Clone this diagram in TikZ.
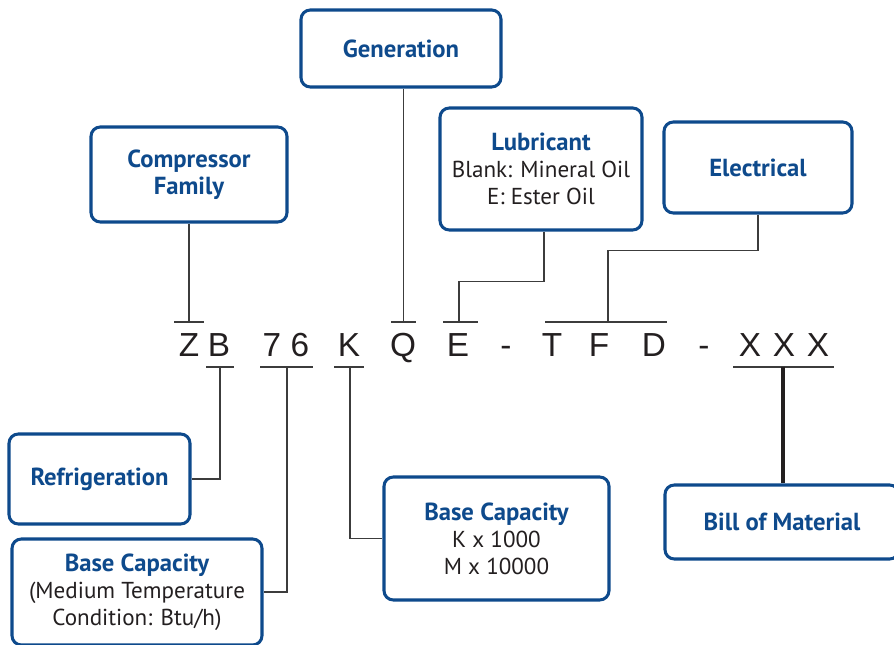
\documentclass[tikz,border=0pt]{standalone}
\usepackage{fontspec}
\setmainfont{PT Sans}
\newfontfamily\codefont{Liberation Sans}
\definecolor{eblue}{RGB}{14,74,140}
\definecolor{ltext}{RGB}{35,31,32}
\definecolor{lline}{RGB}{60,60,60}
\newcommand\boxtitle[1]{{\fontsize{18.5}{20}\selectfont\bfseries\color{eblue}#1}}
\begin{document}
\begin{tikzpicture}[x=0.75pt,y=-0.75pt,
  box/.style={draw=eblue, line width=2.3pt, rounded corners=7pt, fill=white,
    align=center, inner sep=0pt, text=ltext, font=\fontsize{17.3}{20.25}\selectfont},
  conn/.style={draw=lline, line width=1.1pt},
  bold conn/.style={draw=ltext, line width=2.3pt},
  code/.style={font=\codefont\fontsize{25}{25}\selectfont, text=ltext, inner sep=0pt, anchor=base}]
\useasboundingbox (0,0) rectangle (894,645);

% boxes
\node[box, minimum width=200*0.75pt, minimum height=77*0.75pt] (gen) at (401,48.5) {\boxtitle{Generation}};
\node[box, minimum width=196*0.75pt, minimum height=95*0.75pt] (cf) at (189,174.5) {\boxtitle{Compressor}\\\boxtitle{Family}};
\node[box, minimum width=202*0.75pt, minimum height=122*0.75pt] (lub) at (541,169) {\boxtitle{Lubricant}\\Blank: Mineral Oil\\E: Ester Oil};
\node[box, minimum width=188*0.75pt, minimum height=91*0.75pt] (elec) at (758,167.5) {\boxtitle{Electrical}};
\node[box, minimum width=181*0.75pt, minimum height=90*0.75pt] (ref) at (99.5,479) {\boxtitle{Refrigeration}};
\node[box, minimum width=250*0.75pt, minimum height=106*0.75pt] (bcl) at (137,592) {\boxtitle{Base Capacity}\\(Medium Temperature\\Condition: Btu/h)};
\node[box, minimum width=225*0.75pt, minimum height=123*0.75pt] (bck) at (496.5,538.5) {\boxtitle{Base Capacity}\\K x 1000\\M x 10000};
\node[box, minimum width=234*0.75pt, minimum height=74*0.75pt] (bill) at (782,522) {\boxtitle{Bill of Material}};

% model code letters
\node[code] (cZ) at (189,357) {Z};
\node[code] (cB) at (219,357) {B};
\node[code] (c7) at (272,357) {7};
\node[code] (c6) at (300,357) {6};
\node[code] (cK) at (349,357) {K};
\node[code] (cQ) at (403,357) {Q};
\node[code] (cE) at (458,357) {E};
\node[code] (cd1) at (506,357) {-};
\node[code] (cT) at (552,357) {T};
\node[code] (cF) at (599,357) {F};
\node[code] (cD) at (654,357) {D};
\node[code] (cd2) at (704,357) {-};
\node[code] (cX1) at (750,357) {X};
\node[code] (cX2) at (784,357) {X};
\node[code] (cX3) at (818,357) {X};

% tee points
\coordinate (tZ) at (189,322);
\coordinate (tQ) at (403.5,322);
\coordinate (tE) at (459,322);
\coordinate (tTFD) at (608,322);
\coordinate (tB) at (220,367);
\coordinate (t76) at (287,367);
\coordinate (tK) at (350,367);
\coordinate (tX) at (783,367);

% tee bars
\draw[conn] (174,322) -- (204,322);
\draw[conn] (391,322) -- (416,322);
\draw[conn] (443,322) -- (478,322);
\draw[conn] (545,322) -- (667,322);
\draw[conn] (206,367) -- (234,367);
\draw[conn] (260,367) -- (313,367);
\draw[conn] (334,367) -- (364,367);
\draw[conn] (733,367) -- (834,367);

% connectors
\draw[conn] (cf.south -| tZ) -- (tZ);
\draw[conn] (gen.south -| tQ) -- (tQ);
\draw[conn] (lub.south) ++(3,0) -- ++(0,50) -| (tE);
\draw[conn] (elec.south) -- ++(0,36) -| (tTFD);
\draw[conn] (tB) |- (ref.east);
\draw[conn] (t76) |- (bcl.east);
\draw[conn] (tK) |- (bck.west);
\draw[bold conn] (tX) -- (bill.north -| tX);
\end{tikzpicture}
\end{document}
